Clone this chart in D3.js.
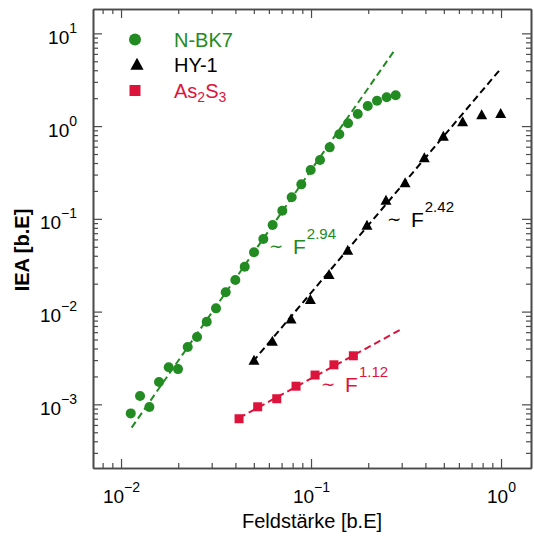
<!DOCTYPE html>
<html>
<head>
<meta charset="utf-8">
<script src="https://cdn.jsdelivr.net/npm/d3@7"></script>
<style>
  body { margin: 0; background: #fff; }
  svg { display: block; font-family: 'Liberation Sans', Arial, sans-serif; }
</style>
</head>
<body>
<div id="chart"></div>
<script>
// N-BK7 (green circles)
const bk7X = [0.01125, 0.01259, 0.0141, 0.01585, 0.01782, 0.01995, 0.02244, 0.02512, 0.02825, 0.03162,
    0.03556, 0.03996, 0.04477, 0.05012, 0.0561, 0.0628, 0.0706, 0.0791, 0.0889, 0.0996,
    0.1115, 0.1254, 0.1409, 0.1566, 0.1762, 0.1988, 0.2225, 0.2501, 0.279];
const bk7Y = [7.99e-4, 1.23e-3, 9.35e-4, 1.74e-3, 2.51e-3, 2.40e-3, 4.15e-3, 5.32e-3, 7.78e-3, 0.01084,
    0.01614, 0.02188, 0.03047, 0.04355, 0.06053, 0.0857, 0.1222, 0.1706, 0.2355, 0.3357,
    0.4305, 0.59, 0.815, 1.071, 1.349, 1.644, 1.877, 2.042, 2.146];

// HY-1 (black triangles)
const hyX = [0.0501, 0.0626, 0.0785, 0.0992, 0.1244, 0.156, 0.197, 0.248, 0.3126, 0.3947, 0.497, 0.628, 0.791, 0.996];
const hyY = [2.95e-3, 4.73e-3, 8.24e-3, 0.01333, 0.02477, 0.0453, 0.0843, 0.1567, 0.2414, 0.449, 0.767, 1.097, 1.306, 1.349];

// As2S3 (red squares)
const asX = [0.0418, 0.0524, 0.066, 0.0834, 0.105, 0.132, 0.167];
const asY = [7.0e-4, 9.42e-4, 1.15e-3, 1.57e-3, 2.07e-3, 2.67e-3, 3.34e-3];

// power-law fits: y = 10^a * x^k over [x0, x1]
const fitExp = [2.94, 2.42, 1.12];
const fitA = [2.465, 0.622, -1.602];
const fitRange = [[0.01137, 0.279], [0.0494, 0.995], [0.0418, 0.2965]];
// where each "~ F^k" label sits, in data units
const fitLabelAt = [[0.0601, 0.0417], [0.251, 0.0822], [0.113, 1.36e-3]];

const seriesNames = ['N-BK7', 'HY-1', 'As2S3'];
const seriesColors = ['#228b22', '#000000', '#dc143c'];

const W = 534, H = 536;
const margin = { left: 93, top: 9, right: 3, bottom: 68 };
const iw = W - margin.left - margin.right;
const ih = H - margin.top - margin.bottom;

const x = d3.scaleLog().domain([0.00712, 1.438]).range([0, iw]);
const y = d3.scaleLog().domain([2.06e-4, 18.3]).range([ih, 0]);

const svg = d3.select('#chart').append('svg')
    .attr('width', W)
    .attr('height', H);

const g = svg.append('g')
    .attr('transform', `translate(${margin.left},${margin.top})`);

const isMajor = v => Math.abs(Math.log10(v) - Math.round(Math.log10(v))) < 1e-6;
const frameColor = '#4a4a4a';

function styleAxis(sel) {
    sel.select('.domain').attr('stroke', frameColor).attr('stroke-width', 1.6);
    sel.selectAll('.tick line').attr('stroke', frameColor).attr('stroke-width', 1.2);
}

const xMinor = x.ticks().filter(v => !isMajor(v));
const xMajor = x.ticks().filter(isMajor);
const yMinor = y.ticks().filter(v => !isMajor(v));
const yMajor = y.ticks().filter(isMajor);

// minor ticks on all four sides
g.append('g').attr('transform', `translate(0,${ih})`)
    .call(d3.axisBottom(x).tickValues(xMinor).tickSizeInner(-5).tickSizeOuter(0).tickFormat(''))
    .call(styleAxis);
g.append('g')
    .call(d3.axisTop(x).tickValues(xMinor).tickSizeInner(-5).tickSizeOuter(0).tickFormat(''))
    .call(styleAxis);
g.append('g')
    .call(d3.axisLeft(y).tickValues(yMinor).tickSizeInner(-5).tickSizeOuter(0).tickFormat(''))
    .call(styleAxis);
g.append('g').attr('transform', `translate(${iw},0)`)
    .call(d3.axisRight(y).tickValues(yMinor).tickSizeInner(-5).tickSizeOuter(0).tickFormat(''))
    .call(styleAxis);

// major ticks
const xAxisB = g.append('g').attr('transform', `translate(0,${ih})`)
    .call(d3.axisBottom(x).tickValues(xMajor).tickSizeInner(-9).tickSizeOuter(0))
    .call(styleAxis);
g.append('g')
    .call(d3.axisTop(x).tickValues(xMajor).tickSizeInner(-9).tickSizeOuter(0).tickFormat(''))
    .call(styleAxis);
const yAxisL = g.append('g')
    .call(d3.axisLeft(y).tickValues(yMajor).tickSizeInner(-9).tickSizeOuter(0))
    .call(styleAxis);
g.append('g').attr('transform', `translate(${iw},0)`)
    .call(d3.axisRight(y).tickValues(yMajor).tickSizeInner(-9).tickSizeOuter(0).tickFormat(''))
    .call(styleAxis);

function powerLabel(text, v) {
    const e = Math.round(Math.log10(v));
    text.text(null)
        .attr('font-size', 19)
        .attr('fill', '#000');
    text.append('tspan').text('10');
    text.append('tspan')
        .attr('font-size', 14)
        .attr('dy', -11)
        .text(e < 0 ? '\u2212' + Math.abs(e) : String(e));
}

xAxisB.selectAll('.tick text').each(function (d) {
    const t = d3.select(this);
    powerLabel(t, d);
    t.attr('y', 35).attr('dy', null).attr('dx', 0).attr('text-anchor', 'middle');
});

yAxisL.selectAll('.tick text').each(function (d) {
    const t = d3.select(this);
    powerLabel(t, d);
    t.attr('x', -16).attr('y', 10).attr('dy', null).attr('text-anchor', 'end');
});

// axis titles
svg.append('text')
    .attr('x', margin.left + iw / 2 + 0)
    .attr('y', 528)
    .attr('text-anchor', 'middle')
    .attr('font-size', 20)
    .text('Feldstärke [b.E]');

svg.append('text')
    .attr('transform', 'translate(29,250) rotate(-90)')
    .attr('text-anchor', 'middle')
    .attr('font-size', 20)
    .attr('font-weight', 'bold')
    .text('IEA [b.E]');

// fit lines
const line = d3.line().x(d => x(d[0])).y(d => y(d[1]));
fitExp.forEach((k, i) => {
    const pts = fitRange[i].map(v => [v, Math.pow(10, fitA[i]) * Math.pow(v, k)]);
    g.append('path')
        .attr('d', line(pts))
        .attr('fill', 'none')
        .attr('stroke', seriesColors[i])
        .attr('stroke-width', 2)
        .attr('stroke-dasharray', '7,4');
});

// markers
const triangle = s => `M0,${-s * 0.6}L${s * 0.55},${s * 0.4}L${-s * 0.55},${s * 0.4}Z`;

g.append('g').selectAll('circle')
    .data(d3.zip(bk7X, bk7Y))
    .join('circle')
    .attr('cx', d => x(d[0]))
    .attr('cy', d => y(d[1]))
    .attr('r', 5)
    .attr('fill', seriesColors[0]);

g.append('g').selectAll('path')
    .data(d3.zip(hyX, hyY))
    .join('path')
    .attr('d', triangle(10))
    .attr('transform', d => `translate(${x(d[0])},${y(d[1])})`)
    .attr('fill', seriesColors[1]);

g.append('g').selectAll('rect')
    .data(d3.zip(asX, asY))
    .join('rect')
    .attr('x', d => x(d[0]) - 4.5)
    .attr('y', d => y(d[1]) - 4.5)
    .attr('width', 9)
    .attr('height', 9)
    .attr('fill', seriesColors[2]);

// "~ F^k" annotations
fitExp.forEach((k, i) => {
    const t = g.append('text')
        .attr('x', x(fitLabelAt[i][0]))
        .attr('y', y(fitLabelAt[i][1]))
        .attr('fill', seriesColors[i])
        .attr('font-size', 21);
    t.append('tspan').attr('font-size', 17).attr('dy', -2).text('\u223c');
    t.append('tspan').attr('dx', 10).attr('dy', 2).text('F');
    t.append('tspan').attr('font-size', 15).attr('dy', -15).attr('dx', 1).text(k.toFixed(2));
});

// legend
const legend = svg.append('g');
seriesNames.forEach((name, i) => {
    const cy = 39.5 + i * 25.5;
    const c = seriesColors[i];
    if (i === 0) {
        legend.append('circle').attr('cx', 135).attr('cy', cy).attr('r', 6).attr('fill', c);
    } else if (i === 1) {
        legend.append('path').attr('d', triangle(12)).attr('transform', `translate(137,${cy})`).attr('fill', c);
    } else {
        legend.append('rect').attr('x', 129.5).attr('y', cy - 5.5).attr('width', 11).attr('height', 11).attr('fill', c);
    }
    const t = legend.append('text')
        .attr('x', 174)
        .attr('y', cy + 7)
        .attr('font-size', 20)
        .attr('fill', c);
    if (name === 'As2S3') {
        t.append('tspan').text('As');
        t.append('tspan').attr('font-size', 14).attr('dy', 4).text('2');
        t.append('tspan').attr('dy', -4).text('S');
        t.append('tspan').attr('font-size', 14).attr('dy', 4).text('3');
    } else {
        t.text(name);
    }
});
</script>
</body>
</html>
